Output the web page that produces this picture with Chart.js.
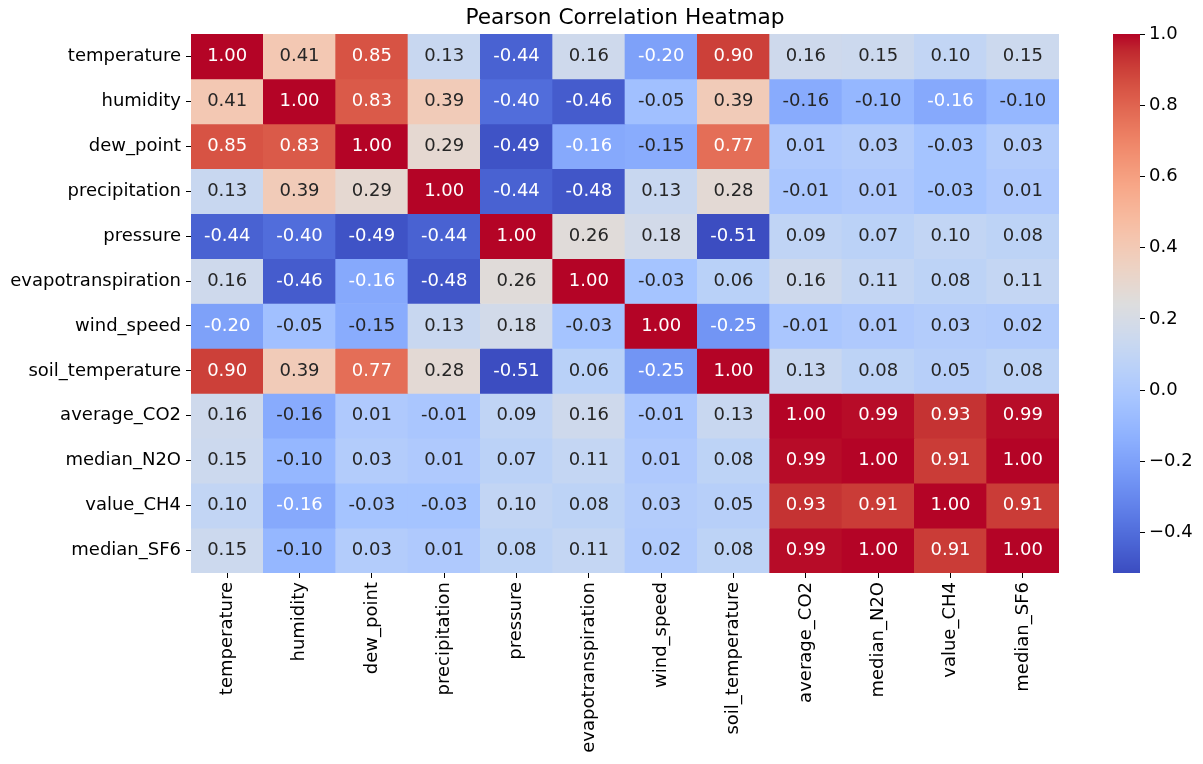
<!DOCTYPE html>
<html>
<head>
<meta charset="utf-8">
<script src="https://cdn.jsdelivr.net/npm/chart.js@4.4.1/dist/chart.umd.min.js"></script>
<style>
  html, body { margin: 0; padding: 0; background: #fff; }
  #wrap { width: 1203px; height: 764px; }
</style>
</head>
<body>
<div id="wrap"><canvas id="heatmap" width="1203" height="764"></canvas></div>
<script>
const variables = ['temperature', 'humidity', 'dew_point', 'precipitation', 'pressure', 'evapotranspiration',
  'wind_speed', 'soil_temperature', 'average_CO2', 'median_N2O', 'value_CH4', 'median_SF6'];

// one row of the correlation matrix per variable
const corrTemperature     = [1.00, 0.41, 0.85, 0.13, -0.44, 0.16, -0.20, 0.90, 0.16, 0.15, 0.10, 0.15];
const corrHumidity        = [0.41, 1.00, 0.83, 0.39, -0.40, -0.46, -0.05, 0.39, -0.156, -0.10, -0.164, -0.10];
const corrDewPoint        = [0.85, 0.83, 1.00, 0.29, -0.49, -0.164, -0.15, 0.77, 0.01, 0.03, -0.03, 0.03];
const corrPrecipitation   = [0.13, 0.39, 0.29, 1.00, -0.44, -0.48, 0.13, 0.28, -0.01, 0.01, -0.03, 0.01];
const corrPressure        = [-0.44, -0.40, -0.49, -0.44, 1.00, 0.26, 0.18, -0.51, 0.09, 0.07, 0.10, 0.08];
const corrEvapo           = [0.16, -0.46, -0.164, -0.48, 0.26, 1.00, -0.03, 0.06, 0.16, 0.11, 0.08, 0.11];
const corrWindSpeed       = [-0.20, -0.05, -0.15, 0.13, 0.18, -0.03, 1.00, -0.25, -0.01, 0.01, 0.03, 0.02];
const corrSoilTemperature = [0.90, 0.39, 0.77, 0.28, -0.51, 0.06, -0.25, 1.00, 0.13, 0.08, 0.05, 0.08];
const corrCO2             = [0.16, -0.156, 0.01, -0.01, 0.09, 0.16, -0.01, 0.13, 1.00, 0.99, 0.93, 0.99];
const corrN2O             = [0.15, -0.10, 0.03, 0.01, 0.07, 0.11, 0.01, 0.08, 0.99, 1.00, 0.91, 1.00];
const corrCH4             = [0.10, -0.164, -0.03, -0.03, 0.10, 0.08, 0.03, 0.05, 0.93, 0.91, 1.00, 0.91];
const corrSF6             = [0.15, -0.10, 0.03, 0.01, 0.08, 0.11, 0.02, 0.08, 0.99, 1.00, 0.91, 1.00];

const corrRows = [corrTemperature, corrHumidity, corrDewPoint, corrPrecipitation, corrPressure, corrEvapo,
  corrWindSpeed, corrSoilTemperature, corrCO2, corrN2O, corrCH4, corrSF6];

const colorbarTicks = [-0.4, -0.2, 0.0, 0.2, 0.4, 0.6, 0.8, 1.0];
const colorMin = -0.513;
const colorMax = 1.0;

const TITLE = 'Pearson Correlation Heatmap';

// matplotlib "coolwarm", sampled every 1/32
const coolwarm = [
  [59,76,192], [68,90,204], [77,104,215], [87,117,225], [98,130,234], [108,142,241], [119,154,247],
  [130,165,251], [141,176,254], [152,185,255], [163,194,255], [174,201,253], [184,208,249], [194,213,244],
  [204,217,238], [213,219,230], [221,221,221], [229,216,209], [236,211,197], [241,204,185], [245,196,173],
  [247,187,160], [247,177,148], [247,166,135], [244,154,123], [241,141,111], [236,127,99], [229,112,88],
  [222,96,77], [213,80,66], [203,62,56], [192,40,47], [180,4,38]
];

function cmap(v) {
  let t = (v - colorMin) / (colorMax - colorMin);
  t = Math.max(0, Math.min(1, t));
  const pos = t * (coolwarm.length - 1);
  const i = Math.min(Math.floor(pos), coolwarm.length - 2);
  const f = pos - i;
  const a = coolwarm[i], b = coolwarm[i + 1];
  return [0, 1, 2].map(k => Math.round(a[k] + (b[k] - a[k]) * f));
}
const rgb = c => `rgb(${c[0]},${c[1]},${c[2]})`;

// same rule seaborn uses to pick the annotation colour
function textColor(c) {
  const lin = c.map(x => {
    x /= 255;
    return x <= 0.03928 ? x / 12.92 : Math.pow((x + 0.055) / 1.055, 2.4);
  });
  const lum = 0.2126 * lin[0] + 0.7152 * lin[1] + 0.0722 * lin[2];
  return lum > 0.408 ? '#262626' : '#ffffff';
}

const FONT = 'DejaVu Sans';
const tickFont = { family: FONT, size: 18 };

const datasets = corrRows.map((row, r) => ({
  label: variables[r],
  data: row.map(() => [r, r + 1]),
  corr: row,
  backgroundColor: row.map(v => rgb(cmap(v))),
  borderWidth: 0,
  barPercentage: 1,
  categoryPercentage: 1,
  grouped: false,
}));

const cellLabels = {
  id: 'cellLabels',
  afterDatasetsDraw(chart) {
    const ctx = chart.ctx;
    ctx.save();
    ctx.font = `18px "${FONT}"`;
    ctx.textAlign = 'center';
    ctx.textBaseline = 'middle';
    chart.data.datasets.forEach((ds, r) => {
      chart.getDatasetMeta(r).data.forEach((bar, c) => {
        const v = ds.corr[c];
        ctx.fillStyle = textColor(cmap(v));
        ctx.fillText(v.toFixed(2), bar.x, (bar.y + bar.base) / 2);
      });
    });
    ctx.restore();
  }
};

// colour bar strip left of the "cb" axis, plus the title centred over the cells
const colorbar = {
  id: 'colorbar',
  afterDraw(chart) {
    const s = chart.scales.cb;
    const ctx = chart.ctx;
    const w = 27;
    for (let y = Math.floor(s.top); y < Math.ceil(s.bottom); y++) {
      ctx.fillStyle = rgb(cmap(s.getValueForPixel(y + 0.5)));
      ctx.fillRect(s.left - w, y, w, 1);
    }
    const area = chart.chartArea;
    ctx.save();
    ctx.font = `21.7px "${FONT}"`;
    ctx.fillStyle = '#000';
    ctx.textAlign = 'center';
    ctx.textBaseline = 'middle';
    ctx.fillText(TITLE, (area.left + area.right) / 2, 18.5);
    ctx.restore();
  }
};

new Chart(document.getElementById('heatmap'), {
  type: 'bar',
  data: { labels: variables, datasets },
  plugins: [cellLabels, colorbar],
  options: {
    responsive: false,
    animation: false,
    events: [],
    layout: { padding: { left: 0, right: 8, top: 34, bottom: 0 } },
    plugins: {
      legend: { display: false },
      tooltip: { enabled: false },
      title: { display: false },
    },
    scales: {
      x: {
        type: 'category',
        offset: true,
        grid: { display: true, drawOnChartArea: false, offset: false, tickLength: 5, color: '#000' },
        border: { display: false },
        ticks: { font: tickFont, color: '#000', minRotation: 90, maxRotation: 90, padding: 4, autoSkip: false },
        afterFit: s => { s.height = 191; },
      },
      y: {
        type: 'linear',
        min: 0,
        max: 12,
        reverse: true,
        afterBuildTicks: s => { s.ticks = variables.map((_, i) => ({ value: i + 0.5 })); },
        grid: { drawOnChartArea: false, tickLength: 5, color: '#000' },
        border: { display: false },
        ticks: { font: tickFont, color: '#000', padding: 5, autoSkip: false, callback: (v, i) => variables[i] },
        afterFit: s => { s.width = 191; },
      },
      gap: {
        type: 'linear',
        position: 'right',
        weight: 0,
        grid: { display: false },
        border: { display: false },
        ticks: { display: false },
        afterFit: s => { s.width = 81; },
      },
      cb: {
        type: 'linear',
        position: 'right',
        weight: 1,
        min: colorMin,
        max: colorMax,
        afterBuildTicks: s => { s.ticks = colorbarTicks.map(v => ({ value: v })); },
        grid: { drawOnChartArea: false, tickLength: 5, color: '#000' },
        border: { display: false },
        ticks: { font: tickFont, color: '#000', padding: 4, callback: v => v.toFixed(1).replace('-', '\u2212') },
        afterFit: s => { s.width = 55; },
      },
    },
  },
});
</script>
</body>
</html>
